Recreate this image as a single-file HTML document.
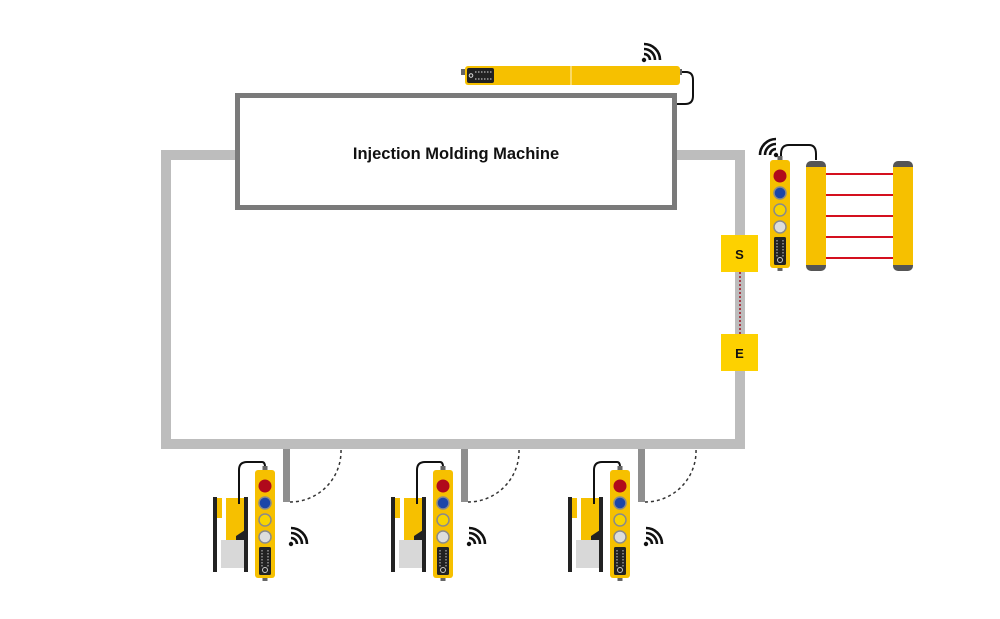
<!DOCTYPE html>
<html><head><meta charset="utf-8"><style>body{margin:0;background:#fff}svg{display:block}</style></head><body>
<svg width="1000" height="619" viewBox="0 0 1000 619" xmlns="http://www.w3.org/2000/svg">
<defs>
<g id="wifi" fill="none" stroke="#111" stroke-width="2.6" stroke-linecap="butt">
<circle cx="0" cy="0" r="2.2" fill="#111" stroke="none"/>
<path d="M0,-6 A6,6 0 0 1 6,0"/>
<path d="M0,-11 A11,11 0 0 1 11,0"/>
<path d="M0,-16 A16,16 0 0 1 16,0"/>
</g>
<g id="pend">
<rect x="-1.5" y="-4" width="5" height="5" fill="#666"/>
<rect x="-1.5" y="106" width="5" height="5" fill="#666"/>
<rect x="-9" y="0" width="20" height="108" rx="3" fill="#f6c000"/>
<circle cx="1" cy="16" r="6.5" fill="#b0091b"/>
<circle cx="1" cy="33" r="6" fill="#1c46a8" stroke="#8a8a8a" stroke-width="1.5"/>
<circle cx="1" cy="50" r="6" fill="#f8d400" stroke="#8a8a8a" stroke-width="1.5"/>
<circle cx="1" cy="67" r="6" fill="#ddd" stroke="#8a8a8a" stroke-width="1.5"/>
<rect x="-5" y="77" width="12" height="28" rx="1.5" fill="#222"/>
<g stroke="#ccc" stroke-width="1" stroke-dasharray="1.5 1.5"><line x1="-2" y1="80" x2="-2" y2="97"/><line x1="4" y1="80" x2="4" y2="97"/></g>
<circle cx="1" cy="100" r="2.5" fill="none" stroke="#ccc" stroke-width="1"/>
</g>
<g id="station">
<path d="M290,502 A51,51 0 0 0 341,449" fill="none" stroke="#333" stroke-width="1.5" stroke-dasharray="3 3"/>
<rect x="283" y="449" width="7" height="53" fill="#8f8f8f"/>
<rect x="213" y="497" width="4" height="75" fill="#222"/>
<rect x="221" y="540" width="23" height="28" fill="#d8d8d8"/>
<rect x="217" y="498" width="5" height="20" fill="#f6c000"/>
<path d="M226,498 H245 V532 L236,536 V540 H226 Z" fill="#f6c000"/>
<path d="M236,536 L245,530 V540 H236 Z" fill="#222"/>
<rect x="244" y="497" width="4" height="75" fill="#222"/>
<path d="M239,504 V470 Q239,462 247,462 H262 Q265,462 265,467" fill="none" stroke="#111" stroke-width="2"/>
<use href="#pend" x="264" y="470"/>
<use href="#wifi" x="291" y="544"/>
</g>
</defs>
<g fill="#bdbdbd">
<rect x="161" y="150" width="10" height="299"/>
<rect x="161" y="150" width="76" height="10"/>
<rect x="676" y="150" width="69" height="10"/>
<rect x="735" y="150" width="10" height="299"/>
<rect x="161" y="439" width="584" height="10"/>
</g>
<rect x="237.5" y="95.5" width="437" height="112" fill="#fff" stroke="#7a7a7a" stroke-width="5"/>
<text x="456" y="159" text-anchor="middle" font-family="Liberation Sans, sans-serif" font-weight="bold" font-size="16.5" fill="#111">Injection Molding Machine</text>
<path d="M680,72 H686 Q693,72 693,80 V96 Q693,104 685,104 H677" fill="none" stroke="#111" stroke-width="2"/>
<rect x="461" y="69" width="5" height="6" fill="#666"/>
<rect x="677" y="69" width="5" height="6" fill="#666"/>
<rect x="465" y="66" width="215" height="19" rx="3" fill="#f6c000"/>
<line x1="571" y1="66" x2="571" y2="85" stroke="#fff" stroke-width="0.8"/>
<rect x="467" y="68" width="27" height="15" rx="2" fill="#222"/>
<g stroke="#ddd" stroke-width="1" stroke-dasharray="1.5 1.5"><line x1="475" y1="72" x2="493" y2="72"/><line x1="475" y1="79" x2="493" y2="79"/></g>
<circle cx="471" cy="75.5" r="1.8" fill="none" stroke="#ddd"/>
<use href="#wifi" x="644" y="60"/>
<line x1="740" y1="272" x2="740" y2="334" stroke="#a0101e" stroke-width="1.5" stroke-dasharray="2 2"/>
<rect x="721" y="235" width="37" height="37" fill="#fdd100"/>
<rect x="721" y="334" width="37" height="37" fill="#fdd100"/>
<text x="739.5" y="259" text-anchor="middle" font-family="Liberation Sans, sans-serif" font-weight="bold" font-size="13" fill="#111">S</text>
<text x="739.5" y="358" text-anchor="middle" font-family="Liberation Sans, sans-serif" font-weight="bold" font-size="13" fill="#111">E</text>
<path d="M781,156 V154 Q781,145 789,145 H809 Q816,145 816,154 V160" fill="none" stroke="#111" stroke-width="2"/>
<use href="#pend" x="779" y="160"/>
<use href="#wifi" x="776" y="155" transform="translate(1552,0) scale(-1,1)"/>
<g stroke="#d4101e" stroke-width="2">
<line x1="826" y1="174" x2="893" y2="174"/><line x1="826" y1="195" x2="893" y2="195"/><line x1="826" y1="216" x2="893" y2="216"/><line x1="826" y1="237" x2="893" y2="237"/><line x1="826" y1="258" x2="893" y2="258"/>
</g>
<g>
<rect x="806" y="161" width="20" height="110" rx="5" fill="#555"/>
<rect x="806" y="167" width="20" height="98" fill="#f6c000"/>
<rect x="893" y="161" width="20" height="110" rx="5" fill="#555"/>
<rect x="893" y="167" width="20" height="98" fill="#f6c000"/>
</g>
<use href="#station"/>
<use href="#station" x="178"/>
<use href="#station" x="355"/>
</svg>
</body></html>
